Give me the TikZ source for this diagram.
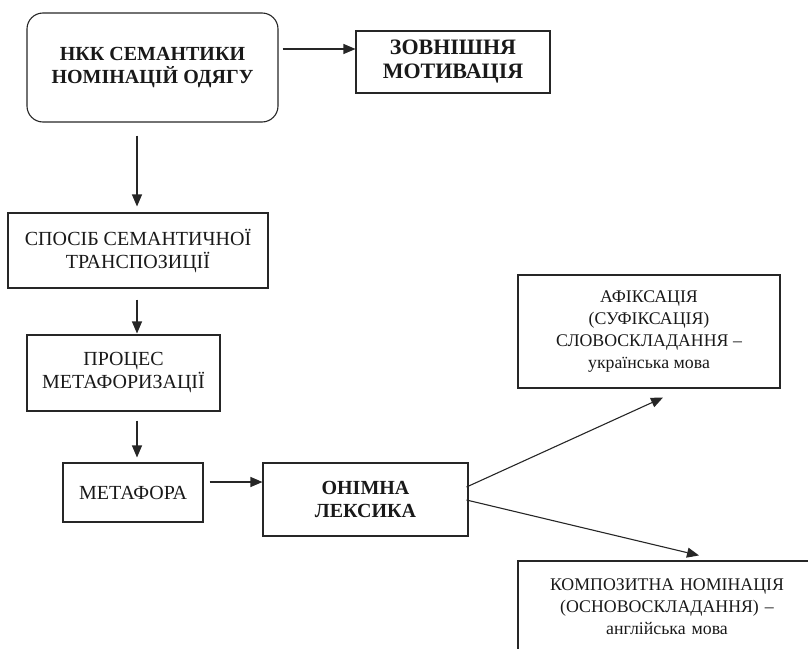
\documentclass[tikz,border=0pt]{standalone}
\usepackage{fontspec}
\setmainfont{Liberation Serif}
\usetikzlibrary{arrows.meta}
\begin{document}
\begin{tikzpicture}[x=1pt,y=-1pt,
  box/.style={draw=black!85,line width=1.1pt,inner sep=0pt,align=center,
    font=\fontsize{20}{23}\selectfont,text=black!90},
  bbox/.style={box,font=\fontsize{20}{22.5}\selectfont\bfseries},
  sbox/.style={box,font=\fontsize{17.8}{21.7}\selectfont},
  arr/.style={draw=black!85,line width=1.1pt,-{Triangle[length=12pt,width=10pt]}}]
\useasboundingbox (0,0) rectangle (808,648);
\node[bbox,rounded corners=16pt,minimum width=251pt,minimum height=109pt] (nkk) at (152.5,67.5) {НКК СЕМАНТИКИ\\НОМІНАЦІЙ ОДЯГУ};
\node[bbox,font=\fontsize{22}{24}\selectfont\bfseries,minimum width=194pt,minimum height=62pt] (zovn) at (453,62) {ЗОВНІШНЯ\\МОТИВАЦІЯ};
\node[box,minimum width=260pt,minimum height=75pt] (sposib) at (138,250.5) {СПОСІБ СЕМАНТИЧНОЇ\\ТРАНСПОЗИЦІЇ};
\node[box,minimum width=193pt,minimum height=76pt] (process) at (123.5,373) {ПРОЦЕС\\МЕТАФОРИЗАЦІЇ};
\node[box,minimum width=140pt,minimum height=59pt] (metafora) at (133,492.5) {МЕТАФОРА};
\node[bbox,minimum width=205pt,minimum height=73pt] (onimna) at (365.5,499.5) {ОНІМНА\\ЛЕКСИКА};
\node[sbox,minimum width=262pt,minimum height=113pt] (afiks) at (649,331.5) {АФІКСАЦІЯ\\(СУФІКСАЦІЯ)\\СЛОВОСКЛАДАННЯ –\\українська мова};
\node[sbox,minimum width=298pt,minimum height=91pt,text width=298pt] (komp) at (667,606.5) {КОМПОЗИТНА НОМІНАЦІЯ\\(ОСНОВОСКЛАДАННЯ) –\\англійська мова};
\draw[arr] ([xshift=4pt,yshift=18.5pt]nkk.east) -- ([yshift=13pt]zovn.west);
\draw[arr] ([xshift=-15.5pt,yshift=-13pt]nkk.south) -- ([xshift=-1pt,yshift=6pt]sposib.north);
\draw[arr] ([xshift=-1pt,yshift=-11pt]sposib.south) -- ([xshift=13.5pt,yshift=1pt]process.north);
\draw[arr] ([xshift=13.5pt,yshift=-9pt]process.south) -- ([xshift=4pt,yshift=5pt]metafora.north);
\draw[arr] ([xshift=6pt,yshift=10.5pt]metafora.east) -- ([yshift=17.5pt]onimna.west);
\draw[arr] ([xshift=-2pt,yshift=12.5pt]onimna.east) -- ([xshift=14pt,yshift=-9pt]afiks.south);
\draw[arr] ([xshift=-2pt,yshift=-0.5pt]onimna.east) -- ([xshift=32pt,yshift=5pt]komp.north);
\end{tikzpicture}
\end{document}
